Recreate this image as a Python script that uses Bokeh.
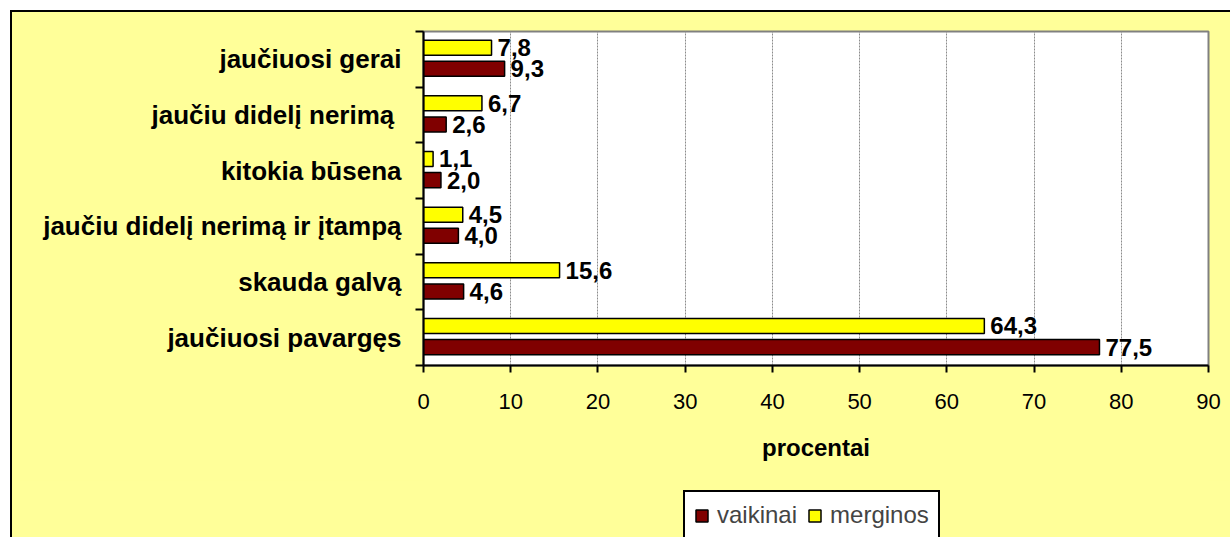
from bokeh.plotting import figure
from bokeh.layouts import column
from bokeh.models import Range1d, FixedTicker, Legend, LegendItem, ColumnDataSource
from bokeh.core.properties import value
from bokeh.embed import file_html
from bokeh.resources import INLINE

# ---- data (bottom to top) ----
categories = ["jaučiuosi pavargęs", "skauda galvą", "jaučiu didelį nerimą ir įtampą",
              "kitokia būsena", "jaučiu didelį nerimą ", "jaučiuosi gerai"]
vaikinai = [77.5, 4.6, 4.0, 2.0, 2.6, 9.3]
merginos = [64.3, 15.6, 4.5, 1.1, 6.7, 7.8]
x_ticks = [0, 10, 20, 30, 40, 50, 60, 70, 80, 90]
series_names = ["vaikinai", "merginos"]
axis_title = "procentai"

FONT = "Liberation Sans"
BG = "#FFFF99"
RED = "#800000"
YEL = "#FFFF00"

centers = [i + 0.5 for i in range(len(categories))]
y_mer = [c + 0.21 for c in centers]
y_vai = [c - 0.17 for c in centers]
fmt = lambda v: f"{v:.1f}".replace(".", ",")

src_m = ColumnDataSource(dict(y=y_mer, v=merginos, t=[fmt(v) for v in merginos]))
src_v = ColumnDataSource(dict(y=y_vai, v=vaikinai, t=[fmt(v) for v in vaikinai]))

W = 1218
H_MAIN = 468
H_LEG = 57

p = figure(width=W, height=H_MAIN, output_backend="svg", toolbar_location=None,
           x_range=Range1d(0, 90), y_range=Range1d(0, len(categories)),
           min_border_left=411, min_border_top=19, min_border_right=22, min_border_bottom=115)

p.background_fill_color = "white"
p.border_fill_color = BG
p.outline_line_color = "#808080"
p.outline_line_width = 2

# grid
p.ygrid.grid_line_color = None
p.xgrid.grid_line_color = "#8c8c8c"
p.xgrid.grid_line_dash = "2 1"
p.xgrid.grid_line_width = 1

bh = 0.27
bar_m = dict(fill_color=YEL, line_color="black", line_width=1.5)
bar_v = dict(fill_color=RED, line_color="black", line_width=1.5)
r_m = p.hbar(y="y", right="v", left=0, height=bh, source=src_m, **bar_m)
r_v = p.hbar(y="y", right="v", left=0, height=bh, source=src_v, **bar_v)

for s in (src_m, src_v):
    p.text(x="v", y="y", text="t", source=s, x_offset=6, text_baseline="middle",
           text_font=value(FONT), text_font_style="bold", text_font_size="24px",
           text_color="black")

# x axis
xa = p.xaxis[0]
xa.ticker = FixedTicker(ticks=x_ticks)
xa.axis_line_color = "black"
xa.axis_line_width = 2
xa.major_tick_out = 7
xa.major_tick_in = 0
xa.major_tick_line_width = 2
xa.minor_tick_line_color = None
xa.major_label_text_font = FONT
xa.major_label_text_font_size = "22px"
xa.major_label_text_color = "black"
xa.major_label_standoff = 21
xa.axis_label = axis_title
xa.axis_label_text_font = FONT
xa.axis_label_text_font_style = "bold"
xa.axis_label_text_font_size = "24px"
xa.axis_label_text_color = "black"
xa.axis_label_standoff = 22

# y axis
ya = p.yaxis[0]
ya.ticker = FixedTicker(ticks=centers, minor_ticks=list(range(len(categories) + 1)))
ya.major_label_overrides = {c: lab for c, lab in zip(centers, categories)}
ya.axis_line_color = "black"
ya.axis_line_width = 2
ya.major_tick_out = 0
ya.major_tick_in = 0
ya.minor_tick_out = 8
ya.minor_tick_in = 0
ya.minor_tick_line_color = "black"
ya.minor_tick_line_width = 2
ya.major_label_text_font = FONT
ya.major_label_text_font_style = "bold"
ya.major_label_text_font_size = "26px"
ya.major_label_text_color = "black"
ya.major_label_standoff = 14

# ---- legend strip (same series, glyphs only used for legend swatches) ----
q = figure(width=W, height=H_LEG, output_backend="svg", toolbar_location=None,
           x_range=Range1d(0, 90), y_range=Range1d(0, len(categories)),
           x_axis_location=None, y_axis_location=None, min_border=0)
q.background_fill_color = BG
q.border_fill_color = BG
q.outline_line_color = None
q.grid.grid_line_color = None
q_m = q.hbar(y="y", right="v", left=0, height=bh, source=src_m, visible=False, **bar_m)
q_v = q.hbar(y="y", right="v", left=0, height=bh, source=src_v, visible=False, **bar_v)

legend = Legend(items=[LegendItem(label=series_names[0], renderers=[q_v]),
                       LegendItem(label=series_names[1], renderers=[q_m])],
                orientation="horizontal", location=(260, -3),
                label_text_font=FONT, label_text_font_size="24px", label_height=26,
                glyph_width=15, glyph_height=15, label_standoff=8, spacing=10,
                padding=9, margin=0, border_line_color="black", border_line_width=2,
                border_line_alpha=1.0,
                background_fill_color="white", background_fill_alpha=1.0)
q.add_layout(legend, "center")

layout = column(p, q, spacing=0)
layout.margin = (10, 0, 0, 10)
layout.styles = {"border-top": "2px solid black", "border-left": "2px solid black",
                 "background-color": BG}

open("out.html", "w").write(file_html(layout, INLINE))
